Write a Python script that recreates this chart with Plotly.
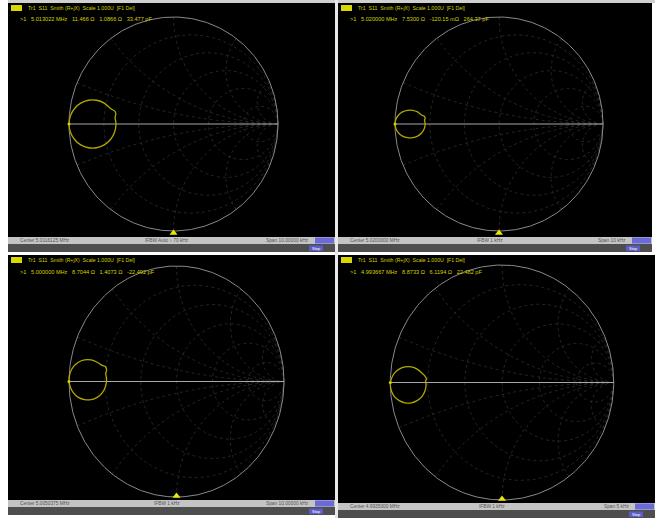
import numpy as np
import plotly.graph_objects as go

W, H = 655, 518

# ---------------- data (reflection coefficient) ----------------
# Smith grid values
R_GRID = [0.2, 0.5, 1.0, 2.0, 5.0]
X_GRID = [0.2, 0.5, 1.0, 2.0, 5.0]

# Trace loops (Gamma real / imag) for each panel
TL_RE = [-0.550, -0.559, -0.552, -0.560, -0.603, -0.663, -0.736, -0.814, -0.888, -0.947, -0.986, -1.000,
         -0.986, -0.947, -0.888, -0.814, -0.736, -0.663, -0.603, -0.564, -0.550]
TL_IM = [0.000, 0.060, 0.092, 0.118, 0.145, 0.195, 0.222, 0.222, 0.195, 0.145, 0.077, 0.000,
         -0.077, -0.145, -0.195, -0.222, -0.222, -0.195, -0.145, -0.077, 0.000]

TR_RE = [-0.710, -0.716, -0.710, -0.718, -0.744, -0.783, -0.830, -0.880, -0.928, -0.966, -0.991, -1.000,
         -0.991, -0.966, -0.928, -0.880, -0.830, -0.783, -0.744, -0.719, -0.710]
TR_IM = [0.000, 0.036, 0.055, 0.072, 0.084, 0.113, 0.128, 0.128, 0.113, 0.084, 0.044, 0.000,
         -0.044, -0.084, -0.113, -0.128, -0.128, -0.113, -0.084, -0.044, 0.000]

BL_RE = [-0.650, -0.658, -0.650, -0.660, -0.691, -0.738, -0.795, -0.855, -0.913, -0.959, -0.989, -1.000,
         -0.989, -0.959, -0.913, -0.855, -0.795, -0.738, -0.691, -0.661, -0.650]
BL_IM = [0.015, 0.070, 0.100, 0.128, 0.140, 0.167, 0.187, 0.187, 0.167, 0.128, 0.075, 0.015,
         -0.045, -0.098, -0.137, -0.157, -0.157, -0.137, -0.098, -0.045, 0.015]

BR_RE = [-0.680, -0.684, -0.677, -0.688, -0.717, -0.760, -0.812, -0.868, -0.920, -0.963, -0.990, -1.000,
         -0.990, -0.963, -0.920, -0.868, -0.812, -0.760, -0.717, -0.690, -0.680]
BR_IM = [-0.020, 0.010, 0.030, 0.052, 0.080, 0.114, 0.133, 0.133, 0.114, 0.080, 0.033, -0.020,
         -0.073, -0.120, -0.154, -0.173, -0.173, -0.154, -0.120, -0.073, -0.020]

MARKER_RE = [-1.0, -1.0, -1.0, -1.0]
MARKER_IM = [0.0, 0.0, 0.0, 0.0]

HEADERS = ["Tr1  S11  Smith (R+jX)  Scale 1.000U  [F1 Del]",
           "Tr1  S11  Smith (R+jX)  Scale 1.000U  [F1 Del]",
           "Tr1  S11  Smith (R+jX)  Scale 1.000U  [F1 Del]",
           "Tr1  S11  Smith (R+jX)  Scale 1.000U  [F1 Del]"]
MARKER_TXT = [">1   5.013022 MHz   11.466 Ω   1.0866 Ω   33.477 pF",
              ">1   5.020000 MHz   7.5300 Ω   -120.15 mΩ   264.37 pF",
              ">1   5.000000 MHz   8.7044 Ω   1.4073 Ω   -22.492 pF",
              ">1   4.993667 MHz   8.8733 Ω   6.1194 Ω   22.482 pF"]
STATUS_L = ["Center 5.0116125 MHz", "Center 5.0200000 MHz", "Center 5.0050375 MHz", "Center 4.9935000 MHz"]
STATUS_M = ["IFBW Auto ≈ 70 kHz", "IFBW 1 kHz", "IFBW 1 kHz", "IFBW 1 kHz"]
STATUS_R = ["Span 10.00000 kHz", "Span 10 kHz", "Span 10.00000 kHz", "Span 5 kHz"]

# ---------------- layout geometry (pixels) ----------------
PANELS = [
    dict(box=(8, 3, 335, 237), c=(173.5, 124.0), rx=104.5, ry=107.0, bar=237, re=TL_RE, im=TL_IM),
    dict(box=(338, 3, 652, 237), c=(499.0, 124.0), rx=104.0, ry=107.0, bar=237, re=TR_RE, im=TR_IM),
    dict(box=(8, 255, 335, 500), c=(176.5, 381.5), rx=107.5, ry=115.5, bar=500, re=BL_RE, im=BL_IM),
    dict(box=(338, 255, 655, 503), c=(502.0, 382.5), rx=111.7, ry=117.5, bar=503, re=BR_RE, im=BR_IM),
]

YEL_TRACE = "#b0a800"
YEL_TEXT = "#d2d200"
GRID = "#333333"
FONT = "Liberation Sans"

fig = go.Figure()
shapes, annots = [], []


def px(x):
    return x / W


def py(y):
    return (H - y) / H


# grid curves from grid values
def grid_xy():
    gx, gy = [], []
    t = np.linspace(0, 2 * np.pi, 241)
    for r in R_GRID:
        c, a = r / (1 + r), 1 / (1 + r)
        gx += list(c + a * np.cos(t)) + [None]
        gy += list(a * np.sin(t)) + [None]
    rr = np.concatenate([np.linspace(0, 2, 120), np.geomspace(2.01, 3000, 120)])
    for x in X_GRID:
        for s in (1, -1):
            z = rr + 1j * s * x
            g = (z - 1) / (z + 1)
            gx += list(g.real) + [None]
            gy += list(g.imag) + [None]
    return gx, gy


GX, GY = grid_xy()
tt = np.linspace(0, 2 * np.pi, 361)

for i, p in enumerate(PANELS):
    x0, y0, x1, y1 = p["box"]
    cx, cy = p["c"]
    rx, ry = p["rx"], p["ry"]
    n = "" if i == 0 else str(i + 1)
    xa, ya = "x" + n, "y" + n
    fig.layout["xaxis" + n] = dict(domain=[px(x0), px(x1)], range=[(x0 - cx) / rx, (x1 - cx) / rx],
                                   visible=False, fixedrange=True, anchor=ya)
    fig.layout["yaxis" + n] = dict(domain=[py(y1), py(y0)], range=[(cy - y1) / ry, (cy - y0) / ry],
                                   visible=False, fixedrange=True, anchor=xa)
    # black panel
    shapes.append(dict(type="rect", xref="paper", yref="paper", x0=px(x0), x1=px(x1), y0=py(y1), y1=py(y0),
                       fillcolor="black", line_width=0, layer="below"))
    # status bar and control bar
    b = p["bar"]
    shapes.append(dict(type="rect", xref="paper", yref="paper", x0=px(x0), x1=px(x1), y0=py(b + 7), y1=py(b),
                       fillcolor="#c4c4c4", line_width=0, layer="below"))
    shapes.append(dict(type="rect", xref="paper", yref="paper", x0=px(x0), x1=px(x1), y0=py(b + 15), y1=py(b + 7),
                       fillcolor="#4e4e4e", line_width=0, layer="below"))
    shapes.append(dict(type="rect", xref="paper", yref="paper", x0=px(x1 - 20), x1=px(x1 - 1), y0=py(b + 6.5), y1=py(b + 0.5),
                       fillcolor="#6a6ad8", line_width=0, layer="below"))
    shapes.append(dict(type="rect", xref="paper", yref="paper", x0=px(x1 - 26), x1=px(x1 - 12), y0=py(b + 14), y1=py(b + 8.5),
                       fillcolor="#5c5cc8", line_width=0, layer="below"))
    annots.append(dict(xref="paper", yref="paper", x=px(x1 - 19), y=py(b + 11.3), text="Stop", showarrow=False,
                       font=dict(size=4, color="white", family=FONT), xanchor="center", yanchor="middle"))
    for txt, xx, anc in [(STATUS_L[i], x0 + 10, "left"), (STATUS_M[i], (x0 + x1) / 2 - 5, "center"),
                         (STATUS_R[i], x1 - 24, "right")]:
        annots.append(dict(xref="paper", yref="paper", x=px(xx), y=py(b + 3.6), text=txt, showarrow=False,
                           font=dict(size=4.8, color="#555555", family=FONT), xanchor=anc, yanchor="middle"))
    # header
    shapes.append(dict(type="rect", xref="paper", yref="paper", x0=px(x0 + 3), x1=px(x0 + 14), y0=py(y0 + 8), y1=py(y0 + 2),
                       fillcolor="#d8d800", line_width=0))
    annots.append(dict(xref="paper", yref="paper", x=px(x0 + 18), y=py(y0 + 5), text=HEADERS[i], showarrow=False,
                       font=dict(size=5.2, color=YEL_TEXT, family=FONT), xanchor="left", yanchor="middle"))
    annots.append(dict(xref="paper", yref="paper", x=px(x0 + 10), y=py(y0 + 16.5), text=MARKER_TXT[i], showarrow=False,
                       font=dict(size=5.6, color=YEL_TEXT, family=FONT), xanchor="left", yanchor="middle"))

    # grid
    fig.add_trace(go.Scatter(x=GX, y=GY, mode="lines", line=dict(color=GRID, width=0.7, dash="dot"),
                             hoverinfo="skip", xaxis=xa, yaxis=ya, showlegend=False))
    fig.add_trace(go.Scatter(x=list(np.cos(tt)), y=list(np.sin(tt)), mode="lines",
                             line=dict(color="#8a8a8a", width=1.0), hoverinfo="skip", xaxis=xa, yaxis=ya,
                             showlegend=False))
    fig.add_trace(go.Scatter(x=[-1, 1], y=[0, 0], mode="lines", line=dict(color="#a8a8a8", width=1.0),
                             hoverinfo="skip", xaxis=xa, yaxis=ya, showlegend=False))
    # trace
    fig.add_trace(go.Scatter(x=p["re"], y=p["im"], mode="lines", line=dict(color=YEL_TRACE, width=1.3, shape="spline"),
                             xaxis=xa, yaxis=ya, showlegend=False))
    fig.add_trace(go.Scatter(x=[MARKER_RE[i]], y=[MARKER_IM[i]], mode="markers",
                             marker=dict(color=YEL_TEXT, size=3), xaxis=xa, yaxis=ya, showlegend=False))
    # stimulus marker triangle at bottom
    tri_y = (cy - (y1 - 4)) / ry
    fig.add_trace(go.Scatter(x=[0], y=[tri_y], mode="markers",
                             marker=dict(color="#e8e800", size=7, symbol="triangle-up"),
                             xaxis=xa, yaxis=ya, showlegend=False))

# separators / frame
shapes.append(dict(type="rect", xref="paper", yref="paper", x0=px(8), x1=px(655), y0=py(3), y1=py(0),
                   fillcolor="#d0d0d0", line_width=0, layer="below"))
shapes.append(dict(type="rect", xref="paper", yref="paper", x0=px(335), x1=px(338), y0=py(518), y1=py(0),
                   fillcolor="#e8e8e8", line_width=0, layer="below"))

fig.update_layout(width=W, height=H, margin=dict(l=0, r=0, t=0, b=0), paper_bgcolor="white",
                  plot_bgcolor="rgba(0,0,0,0)", shapes=shapes, annotations=annots, showlegend=False,
                  font=dict(family=FONT))
fig.write_html("out.html")
